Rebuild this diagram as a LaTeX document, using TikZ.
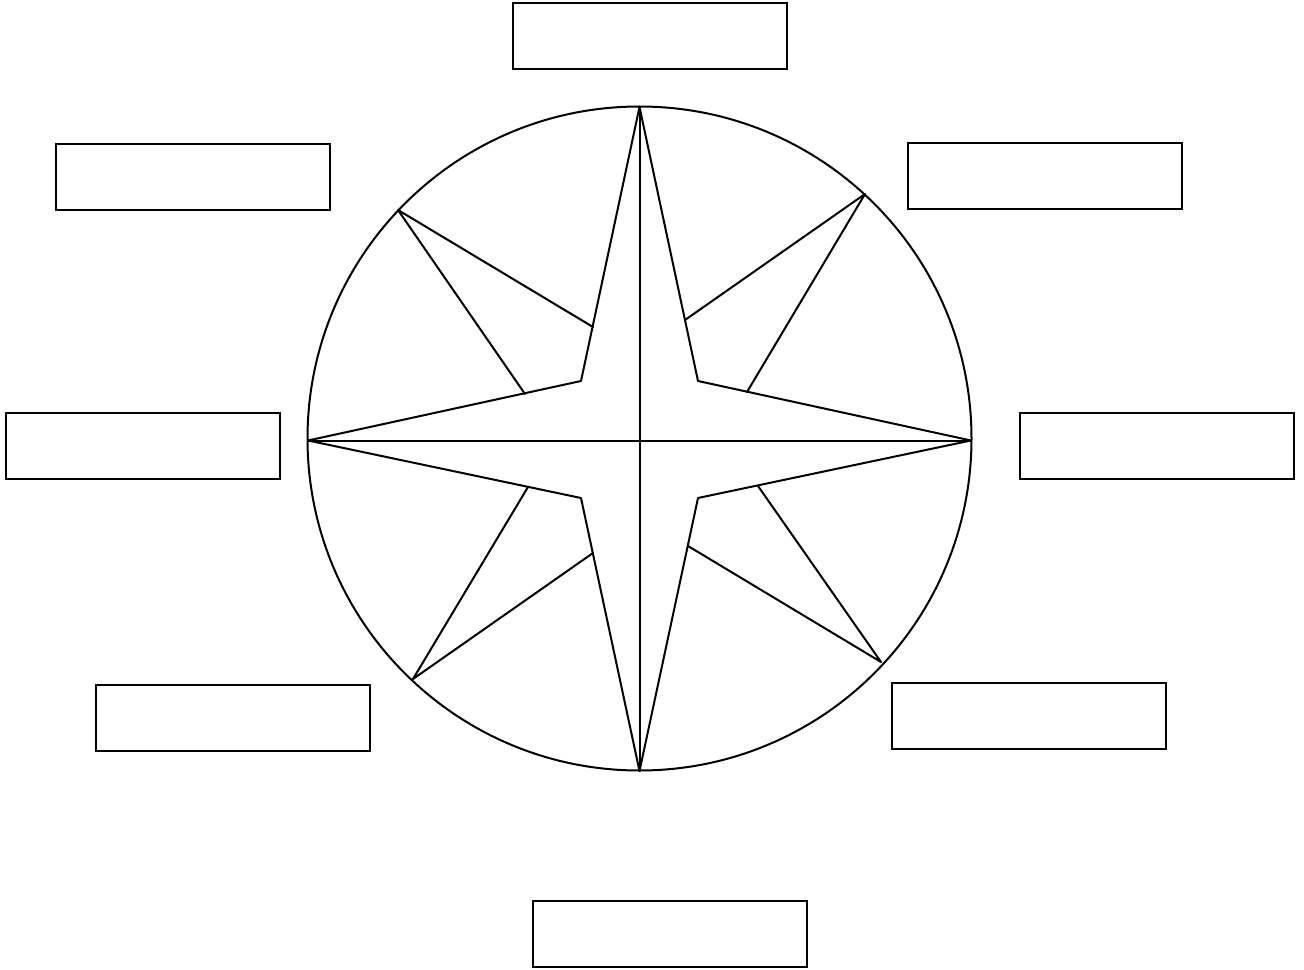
\documentclass[tikz,border=0pt]{standalone}
\tikzset{
  px/.style={x=0.75pt,y=-0.75pt},
  lbl/.style={draw=black,line width=1.5pt,fill=white,minimum width=205.5pt,minimum height=49.5pt,inner sep=0pt,outer sep=0pt,anchor=north west},
  ln/.style={draw=black,line width=1.5pt,line join=round,line cap=round}
}
\begin{document}
\begin{tikzpicture}[px]
\useasboundingbox (0,0) rectangle (1304,970);
\node[lbl] (top) at (513,3) {};
\node[lbl] (tl) at (55.5,144) {};
\node[lbl] (tr) at (908,143.5) {};
\node[lbl] (l) at (6,413) {};
\node[lbl] (r) at (1020,413) {};
\node[lbl] (bl) at (95.5,685) {};
\node[lbl] (br) at (891.5,683) {};
\node[lbl] (bot) at (533,901) {};
\draw[ln] (639.5,438.5) circle [radius=249pt];
\coordinate (N) at (639.5,107);
\coordinate (S) at (639.5,771);
\coordinate (W) at (308,440.5);
\coordinate (E) at (971,440.5);
\draw[ln] (N) -- (698,381) -- (E) -- (698,498) -- (S) -- (581,498) -- (W) -- (581,381) -- cycle;
\draw[ln] (N) -- (S);
\draw[ln] (W) -- (E);
\draw[ln] (685,320) -- (865,194) -- (747,392);
\draw[ln] (758,486) -- (881,662) -- (688,546);
\draw[ln] (593,553) -- (413,679) -- (528,487);
\draw[ln] (525,394) -- (398,210) -- (593,327);
\end{tikzpicture}
\end{document}
